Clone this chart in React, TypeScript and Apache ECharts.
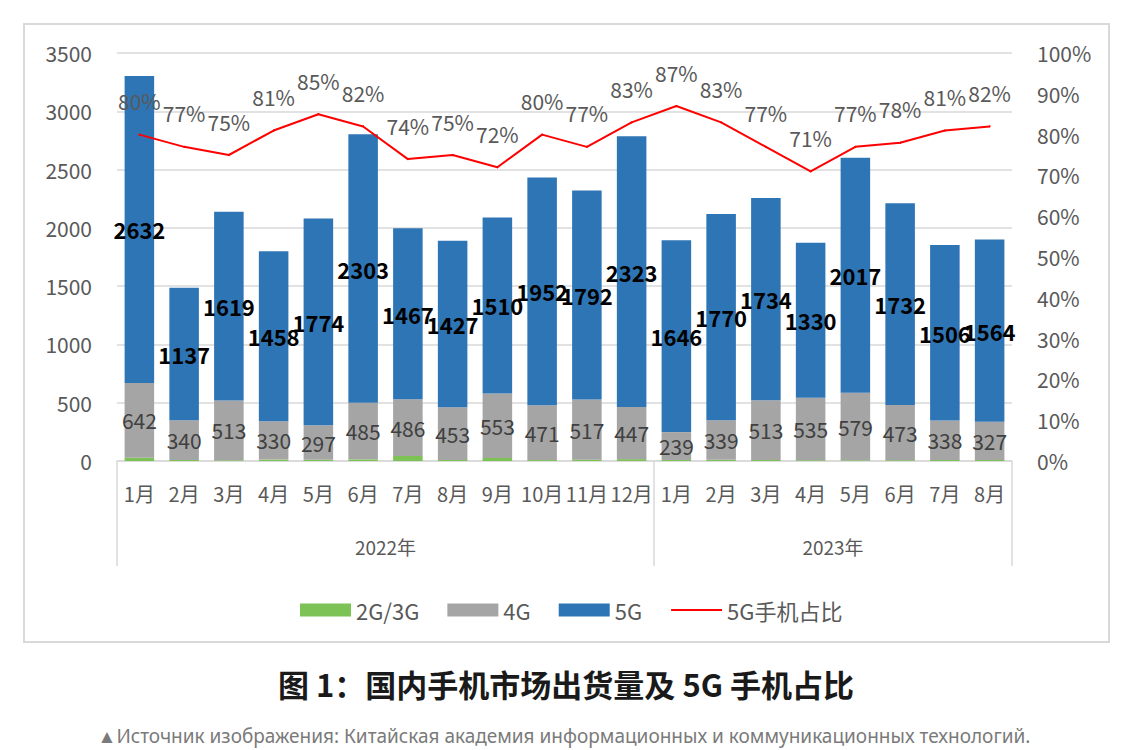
import React, { useEffect, useRef } from "react";
import * as echarts from "echarts";

const months = ["1月","2月","3月","4月","5月","6月","7月","8月","9月","10月","11月","12月","1月","2月","3月","4月","5月","6月","7月","8月"];
const years = ["2022年", "2023年"];
const monthsPerYear = [12, 8];
const g23 = [28, 9, 6, 12, 10, 14, 43, 9, 26, 8, 11, 16, 9, 10, 9, 7, 6, 7, 9, 9];
const g4 = [642, 340, 513, 330, 297, 485, 486, 453, 553, 471, 517, 447, 239, 339, 513, 535, 579, 473, 338, 327];
const g5 = [2632, 1137, 1619, 1458, 1774, 2303, 1467, 1427, 1510, 1952, 1792, 2323, 1646, 1770, 1734, 1330, 2017, 1732, 1506, 1564];
const share5g = [80, 77, 75, 81, 85, 82, 74, 75, 72, 80, 77, 83, 87, 83, 77, 71, 77, 78, 81, 82];
const leftTicks = { min: 0, max: 3500, interval: 500 };
const rightTicks = { min: 0, max: 100, interval: 10 };
const titleText = "图 1：国内手机市场出货量及 5G 手机占比";
const captionText = "▲Источник изображения: Китайская академия информационных и коммуникационных технологий.";

const FONT = "'Noto Sans CJK SC', 'Noto Sans', sans-serif";

export default function App() {
  const ref = useRef<HTMLDivElement>(null);
  useEffect(() => {
    if (!ref.current) return;
    const chart = echarts.init(ref.current, null, { renderer: "svg" });
    const bounds: number[] = [0];
    monthsPerYear.forEach((n) => bounds.push(bounds[bounds.length - 1] + n));
    const mids = years.map((_, i) => (bounds[i] + bounds[i + 1]) / 2);
    const total = bounds[bounds.length - 1];

    chart.setOption({
      animation: false,
      textStyle: { fontFamily: FONT },
      grid: { left: 117, right: 134, top: 53, bottom: 289, containLabel: false },
      legend: {
        top: 594,
        left: 295,
        itemWidth: 51,
        itemHeight: 13,
        itemGap: 28,
        textStyle: { fontFamily: FONT, fontSize: 22, color: "#595959" },
        data: [
          { name: "2G/3G", icon: "rect" },
          { name: "4G", icon: "rect" },
          { name: "5G", icon: "rect" },
          { name: "5G手机占比", itemStyle: { opacity: 0 } },
        ],
      },
      xAxis: [
        {
          type: "category",
          data: months,
          axisLine: { lineStyle: { color: "#D9D9D9", width: 1.5 } },
          axisTick: { show: false },
          axisLabel: { color: "#595959", fontSize: 20, margin: 22, interval: 0, fontFamily: FONT },
        },
        {
          type: "value",
          min: 0,
          max: total,
          position: "bottom",
          axisLine: { show: false },
          splitLine: { show: false },
          axisTick: { show: true, customValues: bounds, length: 105, lineStyle: { color: "#D9D9D9", width: 1.5 } },
          axisLabel: {
            customValues: mids,
            margin: 76,
            color: "#595959",
            fontSize: 19,
            fontFamily: FONT,
            formatter: (v: number) => {
              const idx = mids.indexOf(v);
              return idx >= 0 ? years[idx] : "";
            },
          },
        },
      ],
      yAxis: [
        {
          type: "value",
          ...leftTicks,
          axisLine: { show: false },
          axisTick: { show: false },
          splitLine: { lineStyle: { color: "#D9D9D9", width: 1.5 } },
          axisLabel: { color: "#595959", fontSize: 21, margin: 25, fontFamily: FONT, formatter: (v: number) => String(v) },
        },
        {
          type: "value",
          ...rightTicks,
          axisLine: { show: false },
          axisTick: { show: false },
          splitLine: { show: false },
          axisLabel: { color: "#595959", fontSize: 21, margin: 25, formatter: "{value}%", fontFamily: FONT },
        },
      ],
      series: [
        {
          name: "2G/3G",
          type: "bar",
          stack: "total",
          data: g23,
          barWidth: "66%",
          itemStyle: { color: "#7CC255" },
        },
        {
          name: "4G",
          type: "bar",
          stack: "total",
          data: g4,
          itemStyle: { color: "#A5A5A5" },
          label: {
            show: true,
            position: "inside",
            color: "#404040",
            fontSize: 21,
            fontFamily: FONT,
          },
        },
        {
          name: "5G",
          type: "bar",
          stack: "total",
          data: g5,
          itemStyle: { color: "#2E75B6" },
          label: {
            show: true,
            position: "inside",
            color: "#000000",
            fontSize: 22,
            fontWeight: "bold",
            fontFamily: FONT,
          },
        },
        {
          name: "5G手机占比",
          type: "line",
          yAxisIndex: 1,
          data: share5g,
          symbol: "circle",
          symbolSize: 2,
          showSymbol: true,
          lineStyle: { color: "#FF0000", width: 2 },
          itemStyle: { color: "#FF0000" },
          label: {
            show: true,
            position: "top",
            distance: 22,
            formatter: "{c}%",
            color: "#595959",
            fontSize: 21,
            fontFamily: FONT,
          },
          labelLayout: { hideOverlap: false },
        },
      ],
      graphic: [
        {
          type: "rect",
          shape: { x: 24, y: 24, width: 1085, height: 618 },
          style: { fill: "none", stroke: "#D9D9D9", lineWidth: 2 },
          silent: true,
        },
        {
          type: "text",
          x: 566,
          y: 683,
          style: {
            text: titleText,
            fontFamily: FONT,
            fontSize: 31,
            fontWeight: "bold",
            fill: "#1a1a1a",
            align: "center",
            verticalAlign: "middle",
          },
        },
        {
          type: "text",
          x: 564,
          y: 736,
          style: {
            text: captionText,
            fontFamily: "'Noto Sans', sans-serif",
            fontSize: 19,
            lineHeight: 20,
            fill: "#7a7a7a",
            align: "center",
            verticalAlign: "middle",
          },
        },
      ],
    });
    return () => chart.dispose();
  }, []);
  return (
    <div
      ref={ref}
      style={{ position: "fixed", left: 0, top: 0, width: 1146, height: 750, background: "#fff" }}
    />
  );
}
